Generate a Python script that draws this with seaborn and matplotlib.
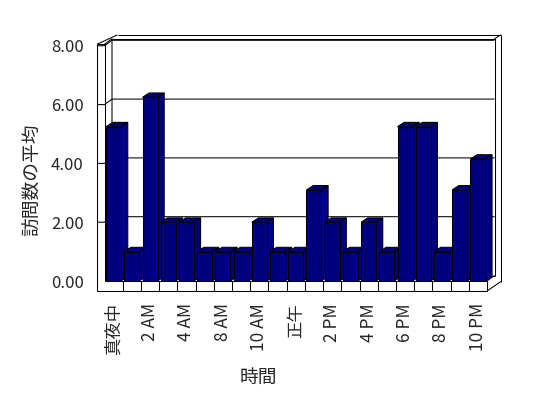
import matplotlib
matplotlib.use("Agg")
import matplotlib.pyplot as plt
import seaborn as sns
from matplotlib.patches import Polygon

# ---------------- data ----------------
hours = ['真夜中', '1 AM', '2 AM', '3 AM', '4 AM', '5 AM', '8 AM', '9 AM', '10 AM', '11 AM',
         '正午', '1 PM', '2 PM', '3 PM', '4 PM', '5 PM', '6 PM', '7 PM', '8 PM', '9 PM', '10 PM']
visits = [5.25, 1.0, 6.25, 2.0, 2.0, 1.0, 1.0, 1.0, 2.0, 1.0,
          1.0, 3.1, 2.0, 1.0, 2.0, 1.0, 5.25, 5.25, 1.0, 3.1, 4.15]
yticks = [0, 2, 4, 6, 8]
ytick_labels = ['0.00', '2.00', '4.00', '6.00', '8.00']
x_title = '時間'
y_title = '訪問数の平均'

# ---------------- style ----------------
sns.set_style("white")
plt.rcParams['font.family'] = ['Noto Sans CJK JP', 'DejaVu Sans']

W, H = 548, 398
fig = plt.figure(figsize=(W / 100, H / 100), dpi=100)
fig.patch.set_facecolor('white')

# geometry (pixels, y measured from top)
L, R = 104.5, 487.0        # category span on the front plane
Y0 = 281.0                 # zero line on the front plane
S = 29.4                   # pixels per unit
XF = 97.0                  # outer front edge of the left wall
FB = 291.0                 # floor front bottom
DX, DY = 7.5, -5.5         # front -> back wall offset
TX, TY = 6.5, -4.0         # wall thickness offset
NAVY = '#000080'
LW = 0.75

# background frame axes in pixel coords
bg = fig.add_axes([0, 0, 1, 1], zorder=0)
bg.set_xlim(0, W)
bg.set_ylim(H, 0)
bg.axis('off')

def line(pts):
    xs, ys = zip(*pts)
    bg.plot(xs, ys, color='black', lw=LW, solid_capstyle='butt')

top_f = Y0 - 8 * S - 1.5
# left wall
line([(XF, top_f), (XF, FB)])
line([(XF, top_f), (L, top_f), (L, Y0)])
line([(L, top_f), (L + DX, top_f + DY), (L + DX, Y0 + DY)])
line([(XF, top_f), (L + DX + TX - 1, top_f + DY + TY)])
# back wall
line([(L + DX, top_f + DY), (R + DX, top_f + DY), (R + DX, Y0 + DY)])
line([(L + DX + TX - 1, top_f + DY + TY), (R + DX + TX, top_f + DY + TY),
      (R + DX + TX, FB + DY + TY)])
line([(R + DX, top_f + DY), (R + DX + TX, top_f + DY + TY)])
line([(L + DX, Y0 + DY), (R + DX, Y0 + DY)])
# floor
line([(XF, FB), (R, FB), (R, Y0), (L, Y0)])
line([(R, FB), (R + DX + TX, FB + DY + TY)])
line([(R, Y0), (R + DX, Y0 + DY)])
w = (R - L) / len(hours)
for k in range(1, len(hours)):
    line([(L + k * w, Y0), (L + k * w, FB)])
# gridlines on walls
for v in yticks[1:]:
    yv = Y0 - v * S
    line([(XF, yv), (L, yv), (L + DX, yv + DY), (R + DX, yv + DY)])

# main axes on the front plane
ax = fig.add_axes([L / W, (H - Y0) / H, (R - L) / W, 8 * S / H], zorder=1)
ax.patch.set_alpha(0)
sns.barplot(x=hours, y=visits, color=NAVY, saturation=1, width=0.82,
            edgecolor='black', linewidth=LW, ax=ax, zorder=3)
ax.set_xlim(-0.5, len(hours) - 0.5)
ax.set_ylim(0, 8)
for s in ax.spines.values():
    s.set_visible(False)

# 3D faces derived from the bars
ddx = 6.7 / w
ddy = 4.3 / S
for p in list(ax.patches):
    x0 = p.get_x()
    x1 = x0 + p.get_width()
    h = p.get_height()
    top = Polygon([(x0, h), (x1, h), (x1 + ddx, h + ddy), (x0 + ddx, h + ddy)],
                  closed=True, facecolor=NAVY, edgecolor='black', lw=LW,
                  zorder=2, clip_on=False)
    side = Polygon([(x1, 0), (x1, h), (x1 + ddx, h + ddy), (x1 + ddx, ddy)],
                   closed=True, facecolor=NAVY, edgecolor='black', lw=LW,
                   zorder=2, clip_on=False)
    ax.add_patch(top)
    ax.add_patch(side)

ax.set_yticks(yticks)
ax.set_yticklabels(ytick_labels, fontsize=12)
ax.tick_params(axis='y', length=0, pad=15)
ax.set_xticks(range(0, len(hours), 2))
ax.set_xticklabels(hours[::2], rotation=90, fontsize=12.5, va='top', ha='center')
ax.tick_params(axis='x', length=0, pad=16)
ax.set_xlabel('')
ax.set_ylabel('')

fig.text(33 / W, 1 - 180 / H, y_title, rotation=90, ha='center', va='center', fontsize=13.5)
fig.text(258 / W, 1 - 377 / H, x_title, ha='center', va='center', fontsize=13.5)

fig.savefig('out.png', dpi=100)
